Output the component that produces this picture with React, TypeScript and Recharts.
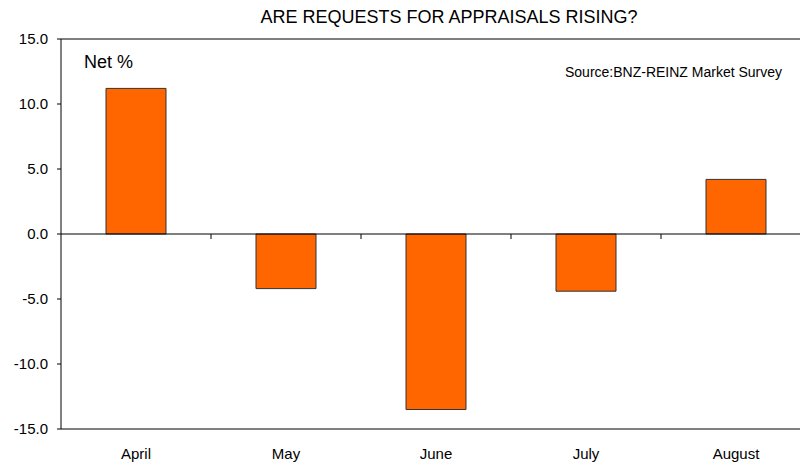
import { Bar, BarChart, ReferenceLine, XAxis, YAxis } from "recharts";

const months = ["April", "May", "June", "July", "August"];
const netPercent = [11.2, -4.2, -13.5, -4.4, 4.2];
const yTicks = [-15, -10, -5, 0, 5, 10, 15];

const chartData = months.map((month, i) => ({ month, net: netPercent[i] }));

const FONT = "'Liberation Sans', Arial, sans-serif";

// Small downward ticks on the zero line, at the boundaries between months
const ZeroLineTicks = (props: { viewBox?: { x: number; y: number; width: number } }) => {
    const vb = props.viewBox;
    if (!vb) return null;
    const band = vb.width / months.length;
    return (
        <g>
            {months.map((_, i) => {
                const x = vb.x + band * (i + 1);
                return <line key={i} x1={x} x2={x} y1={vb.y} y2={vb.y + 5} stroke="#000" strokeWidth={1} />;
            })}
        </g>
    );
};

export default function App() {
    return (
        <div
            style={{
                position: "absolute",
                left: 0,
                top: 0,
                width: 800,
                height: 463,
                overflow: "hidden",
                background: "#fff",
                fontFamily: FONT,
            }}
        >
            <div
                style={{
                    position: "absolute",
                    left: 0,
                    width: 898,
                    top: 7,
                    textAlign: "center",
                    fontSize: 18,
                    color: "#000",
                }}
            >
                ARE REQUESTS FOR APPRAISALS RISING?
            </div>
            <div style={{ position: "absolute", left: 84, top: 52, fontSize: 18, color: "#000" }}>Net %</div>
            <div style={{ position: "absolute", left: 565, top: 64, fontSize: 14, color: "#000" }}>
                Source:BNZ-REINZ Market Survey
            </div>
            <BarChart
                width={820}
                height={463}
                data={chartData}
                margin={{ top: 39, right: 9, bottom: 0, left: 0 }}
                barCategoryGap="30%"
            >
                <XAxis
                    dataKey="month"
                    height={34}
                    axisLine={{ stroke: "#000" }}
                    tickLine={false}
                    tickSize={0}
                    tickMargin={19}
                    tick={{ fill: "#000", fontSize: 15, fontFamily: FONT }}
                />
                <YAxis
                    width={61}
                    domain={[-15, 15]}
                    ticks={yTicks}
                    interval={0}
                    tickFormatter={(v: number) => v.toFixed(1)}
                    axisLine={{ stroke: "#000" }}
                    tickLine={{ stroke: "#000" }}
                    tickSize={4}
                    tickMargin={9}
                    tick={{ fill: "#000", fontSize: 15, fontFamily: FONT }}
                />
                <ReferenceLine y={15} stroke="#000" />
                <Bar dataKey="net" fill="#FF6600" stroke="#333" strokeWidth={1} isAnimationActive={false} />
                <ReferenceLine y={0} stroke="#000" label={<ZeroLineTicks />} />
            </BarChart>
        </div>
    );
}
